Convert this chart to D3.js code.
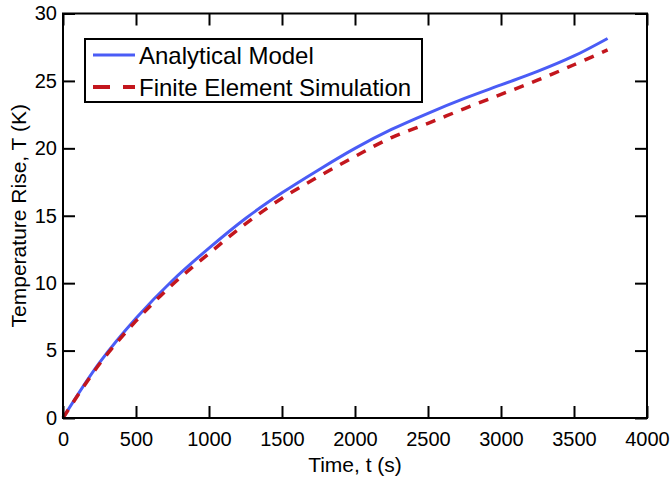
<!DOCTYPE html>
<html>
<head>
<meta charset="utf-8">
<script src="https://cdn.jsdelivr.net/npm/d3@7"></script>
<style>
  body { margin: 0; background: #fff; }
  text { font-family: "Liberation Sans", Arial, sans-serif; fill: #000; }
</style>
</head>
<body>
<svg id="chart" width="670" height="479"></svg>
<script>
// data
const time = [0, 250, 500, 750, 1000, 1250, 1500, 1750, 2000, 2250, 2500, 2750, 3000, 3250, 3500, 3730];
const analytical = [0, 4.1, 7.4, 10.2, 12.6, 14.8, 16.7, 18.4, 20.0, 21.4, 22.6, 23.7, 24.7, 25.7, 26.85, 28.15];
const feSim = [0, 4.0, 7.2, 9.9, 12.2, 14.4, 16.3, 17.9, 19.4, 20.8, 21.85, 22.95, 24.0, 25.05, 26.2, 27.3];
const seriesNames = ["Analytical Model", "Finite Element Simulation"];
const xTicks = [0, 500, 1000, 1500, 2000, 2500, 3000, 3500, 4000];
const yTicks = [0, 5, 10, 15, 20, 25, 30];

const svg = d3.select("#chart");
const m = { left: 63, right: 647, top: 13.5, bottom: 418 };

const x = d3.scaleLinear().domain([0, 4000]).range([m.left, m.right]);
const y = d3.scaleLinear().domain([0, 30]).range([m.bottom, m.top]);

const blue = "#4a5cf6";
const red = "#c3161d";

// curves
const line = (vals) =>
  d3.line()
    .x((d, i) => x(time[i]))
    .y((d) => y(d))
    .curve(d3.curveCatmullRom.alpha(0.5))(vals);

svg.append("path")
  .attr("d", line(analytical))
  .attr("fill", "none")
  .attr("stroke", blue)
  .attr("stroke-width", 3);

svg.append("path")
  .attr("d", line(feSim))
  .attr("fill", "none")
  .attr("stroke", red)
  .attr("stroke-width", 3.5)
  .attr("stroke-dasharray", "10,9");

// axes, ticks inward on all four sides
const tick = 12;
const fmt = d3.format("d");
const styleAxis = (g) => {
  g.select(".domain").remove();
  g.selectAll(".tick line").attr("stroke", "#000").attr("stroke-width", 2);
  g.selectAll(".tick text").attr("font-size", 20).attr("fill", "#000");
};

svg.append("g")
  .attr("transform", `translate(0,${m.bottom})`)
  .call(d3.axisBottom(x).tickValues(xTicks).tickFormat(fmt).tickSizeInner(-tick).tickSizeOuter(0).tickPadding(14))
  .call(styleAxis);

svg.append("g")
  .attr("transform", `translate(0,${m.top})`)
  .call(d3.axisTop(x).tickValues(xTicks).tickSizeInner(-tick).tickSizeOuter(0).tickFormat(""))
  .call(styleAxis);

svg.append("g")
  .attr("transform", `translate(${m.left},0)`)
  .call(d3.axisLeft(y).tickValues(yTicks).tickFormat(fmt).tickSizeInner(-tick).tickSizeOuter(0).tickPadding(6))
  .call(styleAxis);

svg.append("g")
  .attr("transform", `translate(${m.right},0)`)
  .call(d3.axisRight(y).tickValues(yTicks).tickSizeInner(-tick).tickSizeOuter(0).tickFormat(""))
  .call(styleAxis);

// frame
svg.append("rect")
  .attr("x", m.left).attr("y", m.top)
  .attr("width", m.right - m.left).attr("height", m.bottom - m.top)
  .attr("fill", "none").attr("stroke", "#000").attr("stroke-width", 2);

// axis titles
svg.append("text")
  .attr("x", (m.left + m.right) / 2).attr("y", 472)
  .attr("text-anchor", "middle").attr("font-size", 21)
  .text("Time, t (s)");

svg.append("text")
  .attr("transform", `translate(26,${(m.top + m.bottom) / 2}) rotate(-90)`)
  .attr("text-anchor", "middle").attr("font-size", 21)
  .text("Temperature Rise, T (K)");

// legend
const leg = svg.append("g");
leg.append("rect")
  .attr("x", 85).attr("y", 39).attr("width", 337).attr("height", 63)
  .attr("fill", "#fff").attr("stroke", "#000").attr("stroke-width", 2);

const legRows = [
  { name: seriesNames[0], color: blue, dash: null, w: 3, y: 55 },
  { name: seriesNames[1], color: red, dash: "17,13", w: 4, y: 87 },
];
legRows.forEach((r) => {
  leg.append("line")
    .attr("x1", 93).attr("x2", 135).attr("y1", r.y).attr("y2", r.y)
    .attr("stroke", r.color).attr("stroke-width", r.w)
    .attr("stroke-dasharray", r.dash);
  leg.append("text")
    .attr("x", 139).attr("y", r.y + 9)
    .attr("font-size", 24)
    .text(r.name);
});
</script>
</body>
</html>
